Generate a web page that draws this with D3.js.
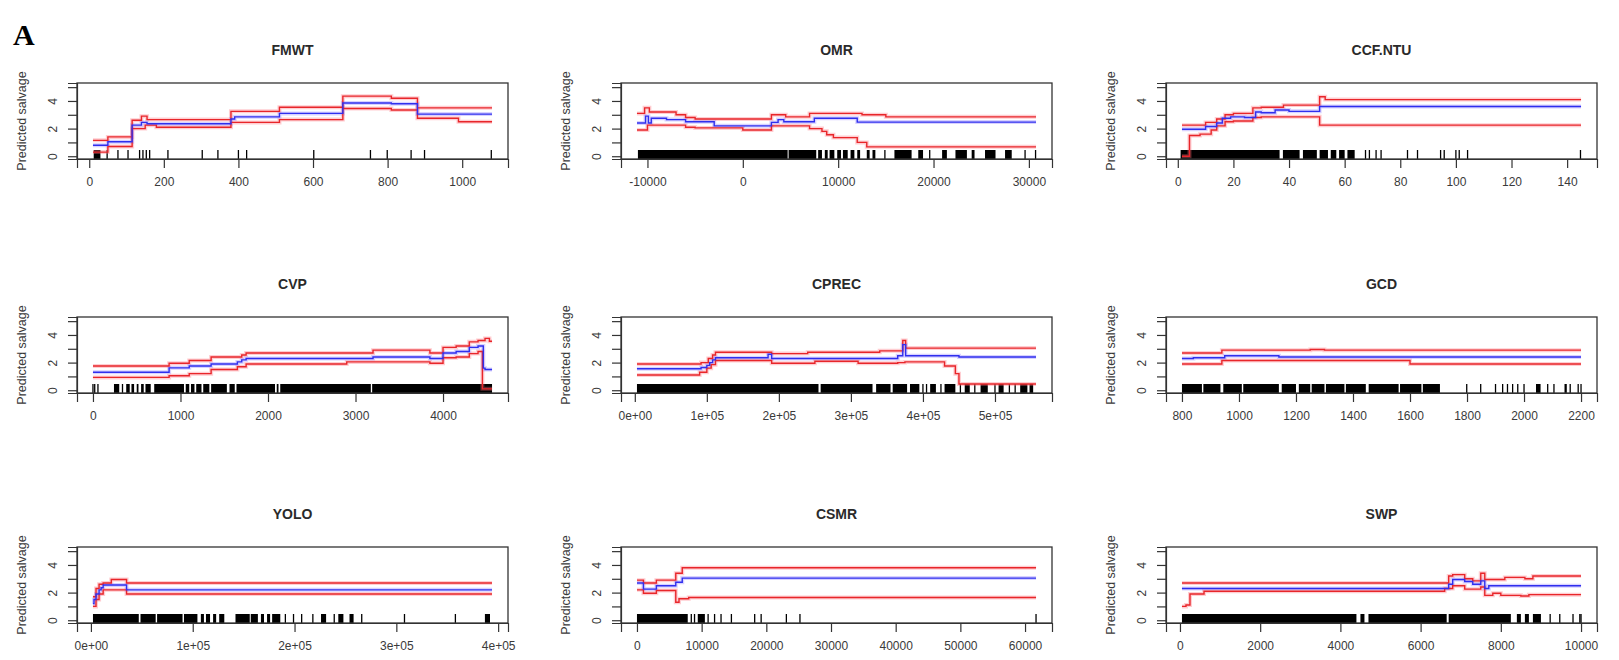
<!DOCTYPE html>
<meta charset="utf-8">
<style>

html, body {
  margin: 0;
  background: #fff;
}

svg {
  display: block;
  font-family: "Liberation Sans", Arial, sans-serif;
}

.box {
  fill: none;
  stroke: #333;
  stroke-width: 1.3px;
}

.axis line, .axis path {
  stroke: #333;
  stroke-width: 1.2px;
}

.axis text {
  fill: #3a3a3a;
  font-size: 12px;
}

.title {
  font-size: 14px;
  font-weight: bold;
  fill: #2a2a2a;
}

.ylab {
  font-size: 12.5px;
  fill: #3a3a3a;
}

.halo { fill: none; stroke-width: 4px; stroke-opacity: 0.35; }
.line { fill: none; stroke-width: 1.4px; }

</style>
<svg></svg>
<script src="https://cdnjs.cloudflare.com/ajax/libs/d3/7.8.5/d3.min.js"></script>
<script>

var width = 1619;
var height = 660;

// panel data: extent of the predictor, step points [x, y] for mean/upper/lower,
// rug as [from, to] runs (from === to is a single tick)

var fmwtExt = [10, 1080];
var fmwtTicks = [0, 200, 400, 600, 800, 1000];
var fmwtMean = [[10, 0.8], [50, 1.05], [115, 2.25], [140, 2.45], [155, 2.35], [380, 2.7], [390, 2.85], [510, 3.1], [680, 3.85], [810, 3.8], [880, 3.05], [1080, 3.05]];
var fmwtUpper = [[10, 1.15], [50, 1.4], [115, 2.6], [140, 2.9], [155, 2.65], [380, 3.25], [510, 3.55], [680, 4.35], [810, 4.2], [880, 3.5], [1080, 3.5]];
var fmwtLower = [[10, 0.3], [50, 0.7], [115, 2.0], [150, 2.25], [180, 2.1], [380, 2.45], [510, 2.65], [680, 3.45], [810, 3.35], [880, 2.75], [990, 2.5], [1080, 2.5]];
var fmwtRug = [[12, 30], [48, 48], [77, 77], [104, 104], [135, 135], [144, 144], [153, 153], [162, 162], [211, 211], [303, 303], [345, 345], [400, 400], [422, 422], [602, 602], [754, 754], [799, 799], [863, 863], [899, 899], [1078, 1078]];

var omrExt = [-11100, 30750];
var omrTicks = [-10000, 0, 10000, 20000, 30000];
var omrMean = [[-11100, 2.4], [-10200, 2.9], [-9900, 2.4], [-9600, 2.75], [-8000, 2.65], [-6000, 2.5], [-3000, 2.2], [3000, 2.45], [3700, 2.65], [4300, 2.5], [7500, 2.75], [12000, 2.47], [30750, 2.47]];
var omrUpper = [[-11100, 3.1], [-10300, 3.5], [-9800, 3.2], [-8500, 3.2], [-7000, 3.0], [-6000, 2.8], [-5000, 2.7], [3000, 3.0], [4500, 2.85], [7000, 3.1], [12500, 3.0], [15000, 2.85], [30750, 2.85]];
var omrLower = [[-11100, 1.9], [-10000, 2.25], [-6000, 2.1], [-5000, 2.05], [0, 1.9], [3000, 2.2], [7000, 2.0], [8300, 1.8], [8800, 1.55], [9500, 1.35], [12000, 1.0], [13000, 0.68], [30750, 0.68]];
var omrRug = [[-11000, 4700], [4800, 7700], [7900, 8300], [8600, 8900], [9100, 9600], [9900, 10300], [10500, 11000], [11300, 11700], [12000, 12300], [13000, 13300], [13600, 13900], [14900, 14900], [15900, 17700], [18400, 18900], [19600, 19600], [20900, 21400], [22300, 23500], [24000, 24300], [25400, 26500], [27500, 28200], [29600, 29600], [30700, 30700]];

var ccfExt = [1.5, 145];
var ccfTicks = [0, 20, 40, 60, 80, 100, 120, 140];
var ccfMean = [[1.5, 1.95], [10, 2.15], [14, 2.4], [16, 2.75], [19, 2.85], [24, 2.8], [28, 3.2], [30, 3.15], [35, 3.35], [40, 3.25], [51, 3.6], [145, 3.6]];
var ccfUpper = [[1.5, 2.25], [10, 2.45], [14, 2.7], [17, 3.0], [20, 3.1], [27, 3.5], [30, 3.55], [38, 3.7], [51, 4.3], [53, 4.1], [145, 4.1]];
var ccfLower = [[1.5, 0], [4.2, 1.5], [8, 1.6], [12, 1.9], [14, 2.2], [17, 2.5], [20, 2.55], [27, 2.8], [30, 2.85], [51, 2.25], [145, 2.25]];
var ccfRug = [[1, 36.6], [37.8, 43.8], [45, 50], [51, 54], [55, 57], [58, 60], [61, 63.6], [67.5, 67.5], [68.9, 68.9], [71.3, 71.3], [73.1, 73.1], [82.6, 82.6], [86.2, 86.2], [94.5, 94.5], [95.8, 95.8], [100, 100], [101.2, 101.2], [104.2, 104.2], [144.8, 144.8]];

var cvpExt = [0, 4560];
var cvpTicks = [0, 1000, 2000, 3000, 4000];
var cvpMean = [[0, 1.3], [870, 1.62], [1100, 1.75], [1350, 1.9], [1650, 2.05], [1700, 2.2], [1750, 2.3], [3200, 2.4], [3850, 2.3], [4000, 2.7], [4150, 2.8], [4300, 3.1], [4400, 3.2], [4460, 1.6], [4480, 1.5], [4560, 1.5]];
var cvpUpper = [[0, 1.75], [870, 1.95], [1100, 2.15], [1350, 2.4], [1700, 2.55], [1750, 2.7], [3200, 2.9], [3850, 2.7], [4000, 3.1], [4150, 3.2], [4300, 3.5], [4400, 3.6], [4480, 3.75], [4530, 3.55], [4560, 3.55]];
var cvpLower = [[0, 0.93], [870, 1.05], [1100, 1.2], [1350, 1.5], [1650, 1.7], [1750, 1.9], [2900, 2.05], [3850, 1.95], [4000, 2.35], [4150, 2.4], [4300, 2.65], [4400, 2.8], [4450, 0.1], [4560, 0.1]];
var cvpRug = [[0, 0], [20, 20], [57, 57], [240, 300], [330, 345], [380, 420], [440, 470], [500, 520], [550, 580], [600, 660], [700, 1040], [1060, 1100], [1120, 1160], [1180, 1240], [1260, 1330], [1350, 1530], [1560, 1620], [1640, 2080], [2100, 2120], [2140, 3175], [3190, 4560]];

var cprecExt = [3000, 557000];
var cprecTicks = [0, 100000, 200000, 300000, 400000, 500000];
var cprecTickLabels = ['0e+00', '1e+05', '2e+05', '3e+05', '4e+05', '5e+05'];
var cprecMean = [[3000, 1.55], [92000, 1.65], [100000, 1.8], [104000, 2.0], [108000, 2.2], [112000, 2.35], [185000, 2.6], [190000, 2.3], [365000, 2.5], [372000, 3.3], [376000, 2.5], [450000, 2.4], [557000, 2.4]];
var cprecUpper = [[3000, 1.9], [92000, 2.0], [102000, 2.3], [108000, 2.55], [112000, 2.75], [190000, 2.65], [240000, 2.75], [340000, 2.85], [372000, 3.6], [376000, 3.05], [557000, 3.05]];
var cprecLower = [[3000, 1.1], [90000, 1.3], [100000, 1.6], [106000, 1.85], [112000, 2.15], [190000, 1.95], [250000, 2.1], [310000, 1.95], [365000, 2.0], [375000, 2.05], [430000, 1.75], [445000, 1.2], [450000, 0.45], [557000, 0.45]];
var cprecRug = [[3000, 255000], [258000, 330000], [335000, 355000], [358000, 378000], [382000, 395000], [400000, 400000], [405000, 405000], [410000, 418000], [425000, 425000], [430000, 445000], [452000, 452000], [458000, 465000], [472000, 472000], [480000, 490000], [500000, 500000], [505000, 512000], [520000, 520000], [528000, 528000], [535000, 545000], [548000, 553000]];

var gcdExt = [800, 2200];
var gcdTicks = [800, 1000, 1200, 1400, 1600, 1800, 2000, 2200];
var gcdMean = [[800, 2.3], [840, 2.35], [950, 2.5], [1140, 2.4], [2200, 2.4]];
var gcdUpper = [[800, 2.7], [940, 2.9], [1250, 2.95], [1300, 2.9], [2200, 2.9]];
var gcdLower = [[800, 1.9], [940, 2.15], [1600, 1.9], [2200, 1.9]];
var gcdRug = [[800, 870], [875, 935], [945, 1010], [1015, 1140], [1150, 1200], [1210, 1250], [1255, 1300], [1305, 1370], [1375, 1445], [1455, 1560], [1565, 1640], [1645, 1705], [1799, 1799], [1848, 1848], [1900, 1900], [1925, 1925], [1942, 1942], [1960, 1960], [1978, 1978], [2000, 2000], [2042, 2058], [2083, 2083], [2105, 2105], [2142, 2150], [2162, 2162], [2190, 2190], [2200, 2200]];

var yoloExt = [2000, 394000];
var yoloTicks = [0, 100000, 200000, 300000, 400000];
var yoloTickLabels = ['0e+00', '1e+05', '2e+05', '3e+05', '4e+05'];
var yoloMean = [[2000, 1.2], [3000, 1.5], [5000, 1.9], [8000, 2.2], [10000, 2.35], [12000, 2.55], [35000, 2.2], [394000, 2.2]];
var yoloUpper = [[2000, 1.7], [5000, 2.3], [8000, 2.6], [12000, 2.7], [20000, 2.95], [35000, 2.7], [394000, 2.7]];
var yoloLower = [[2000, 1.0], [5000, 1.5], [8000, 1.9], [12000, 2.2], [35000, 1.9], [394000, 1.9]];
var yoloRug = [[2000, 47000], [48700, 63600], [65000, 90000], [91400, 104600], [108000, 111000], [113000, 117000], [120000, 123000], [126000, 131000], [142000, 156000], [157000, 164000], [167000, 170000], [173000, 176000], [178000, 186000], [191000, 191000], [199000, 199000], [207000, 207000], [218000, 218000], [226000, 231000], [239000, 239000], [243000, 248000], [254000, 258000], [266000, 266000], [308000, 308000], [358000, 358000], [387000, 392000]];

var csmrExt = [0, 61700];
var csmrTicks = [0, 10000, 20000, 30000, 40000, 50000, 60000];
var csmrMean = [[0, 2.7], [1000, 2.25], [3000, 2.5], [6000, 2.75], [7000, 3.05], [61700, 3.05]];
var csmrUpper = [[0, 2.9], [1000, 2.7], [3000, 2.9], [6000, 3.4], [7000, 3.8], [61700, 3.8]];
var csmrLower = [[0, 2.2], [1000, 1.95], [3000, 2.15], [6000, 1.3], [6500, 1.55], [8000, 1.65], [61700, 1.65]];
var csmrRug = [[0, 7850], [8400, 8400], [8900, 8900], [9400, 10500], [11000, 11000], [12000, 12000], [13000, 13000], [14600, 14600], [18200, 18200], [19200, 19200], [23100, 23100], [25200, 25200], [61700, 61700]];

var swpExt = [50, 10000];
var swpTicks = [0, 2000, 4000, 6000, 8000, 10000];
var swpMean = [[50, 2.3], [6700, 2.6], [6800, 2.95], [7100, 2.8], [7300, 2.6], [7500, 2.85], [7600, 2.3], [7700, 2.5], [10000, 2.5]];
var swpUpper = [[50, 2.7], [6700, 3.2], [6800, 3.3], [7100, 3.0], [7300, 2.85], [7500, 3.4], [7600, 2.95], [8100, 3.1], [8600, 3.0], [8800, 3.2], [10000, 3.2]];
var swpLower = [[50, 1.0], [150, 1.1], [250, 1.9], [600, 2.1], [6600, 2.3], [6800, 2.5], [7100, 2.25], [7500, 2.4], [7600, 1.8], [7800, 1.95], [8000, 1.8], [8500, 1.75], [8700, 1.85], [10000, 1.85]];
var swpRug = [[50, 4400], [4500, 4600], [4700, 6650], [6700, 8250], [8400, 8500], [8600, 8700], [8800, 9000], [9230, 9230], [9470, 9470], [9800, 9800], [9970, 9970], [10000, 10000]];

var yTicks = [0, 1, 2, 3, 4, 5];
var yTickLabels = ['0', '', '2', '', '4', ''];

var panels = [
  {title: 'FMWT', ext: fmwtExt, ticks: fmwtTicks, mean: fmwtMean, upper: fmwtUpper, lower: fmwtLower, rug: fmwtRug},
  {title: 'OMR', ext: omrExt, ticks: omrTicks, mean: omrMean, upper: omrUpper, lower: omrLower, rug: omrRug},
  {title: 'CCF.NTU', ext: ccfExt, ticks: ccfTicks, mean: ccfMean, upper: ccfUpper, lower: ccfLower, rug: ccfRug},
  {title: 'CVP', ext: cvpExt, ticks: cvpTicks, mean: cvpMean, upper: cvpUpper, lower: cvpLower, rug: cvpRug},
  {title: 'CPREC', ext: cprecExt, ticks: cprecTicks, labels: cprecTickLabels, mean: cprecMean, upper: cprecUpper, lower: cprecLower, rug: cprecRug},
  {title: 'GCD', ext: gcdExt, ticks: gcdTicks, mean: gcdMean, upper: gcdUpper, lower: gcdLower, rug: gcdRug},
  {title: 'YOLO', ext: yoloExt, ticks: yoloTicks, labels: yoloTickLabels, mean: yoloMean, upper: yoloUpper, lower: yoloLower, rug: yoloRug},
  {title: 'CSMR', ext: csmrExt, ticks: csmrTicks, mean: csmrMean, upper: csmrUpper, lower: csmrLower, rug: csmrRug},
  {title: 'SWP', ext: swpExt, ticks: swpTicks, mean: swpMean, upper: swpUpper, lower: swpLower, rug: swpRug}
];

// layout of the plot boxes
var colLeft = [77, 621, 1166];
var rowTop = [83, 317, 547];
var boxW = 431;
var boxH = 76;
var rugH = 9;

var svg = d3.select('svg')
  .attr('width', width)
  .attr('height', height);

svg.append('rect')
  .attr('width', width)
  .attr('height', height)
  .attr('fill', '#fff');

svg.append('text')
  .attr('x', 13)
  .attr('y', 45)
  .attr('font-family', '"Liberation Serif", "Times New Roman", serif')
  .attr('font-weight', 'bold')
  .attr('font-size', 30)
  .text('A');

var y = d3.scaleLinear()
  .domain([-0.2, 5.3])
  .range([boxH, 0]);

panels.forEach(function (p, i) {
  var left = colLeft[i % 3];
  var top = rowTop[Math.floor(i / 3)];

  // R style 4% padding around the data range
  var pad = (p.ext[1] - p.ext[0]) * 0.04;
  var x = d3.scaleLinear()
    .domain([p.ext[0] - pad, p.ext[1] + pad])
    .range([0, boxW]);

  var g = svg.append('g')
    .attr('transform', 'translate(' + left + ',' + top + ')');

  g.append('text')
    .attr('class', 'title')
    .attr('x', boxW / 2)
    .attr('y', -28)
    .attr('text-anchor', 'middle')
    .text(p.title);

  g.append('text')
    .attr('class', 'ylab')
    .attr('transform', 'translate(-51,' + (boxH / 2) + ') rotate(-90)')
    .attr('text-anchor', 'middle')
    .text('Predicted salvage');

  // rug
  var rug = g.append('g').attr('class', 'rug');
  rug.selectAll('rect')
    .data(p.rug.filter(function (d) { return d[1] > d[0]; }))
    .enter().append('rect')
    .attr('x', function (d) { return x(d[0]); })
    .attr('width', function (d) { return Math.max(1, x(d[1]) - x(d[0])); })
    .attr('y', boxH - rugH)
    .attr('height', rugH)
    .attr('fill', '#000');
  rug.selectAll('line')
    .data(p.rug.filter(function (d) { return d[1] === d[0]; }))
    .enter().append('line')
    .attr('x1', function (d) { return x(d[0]); })
    .attr('x2', function (d) { return x(d[0]); })
    .attr('y1', boxH - rugH)
    .attr('y2', boxH)
    .attr('stroke', '#000')
    .attr('stroke-width', 1.3);

  var line = d3.line()
    .curve(d3.curveStepAfter)
    .x(function (d) { return x(d[0]); })
    .y(function (d) { return y(d[1]); });

  var series = [
    {values: p.upper, color: '#e8262a', halo: '#ff6f7a'},
    {values: p.lower, color: '#e8262a', halo: '#ff6f7a'},
    {values: p.mean, color: '#2f2fee', halo: '#8c7cff'}
  ];

  g.selectAll('path.halo')
    .data(series)
    .enter().append('path')
    .attr('class', 'halo')
    .attr('stroke', function (d) { return d.halo; })
    .attr('d', function (d) { return line(d.values); });

  g.selectAll('path.line')
    .data(series)
    .enter().append('path')
    .attr('class', 'line')
    .attr('stroke', function (d) { return d.color; })
    .attr('d', function (d) { return line(d.values); });

  // x axis
  var xAxis = d3.axisBottom(x)
    .tickValues(p.ticks)
    .tickSizeOuter(0)
    .tickSize(9)
    .tickPadding(9)
    .tickFormat(function (d, k) { return p.labels ? p.labels[k] : String(d); });

  g.append('g')
    .attr('class', 'axis')
    .attr('transform', 'translate(0,' + boxH + ')')
    .call(xAxis);

  // y axis, labels turned like R's las = 0
  var yAxis = g.append('g')
    .attr('class', 'axis')
    .call(d3.axisLeft(y).tickValues(yTicks).tickSizeOuter(0).tickSize(9).tickFormat(''));

  yAxis.selectAll('.tick')
    .append('text')
    .attr('transform', 'translate(-20,0) rotate(-90)')
    .attr('text-anchor', 'middle')
    .attr('fill', '#3a3a3a')
    .text(function (d, k) { return yTickLabels[k]; });

  g.append('rect')
    .attr('class', 'box')
    .attr('width', boxW)
    .attr('height', boxH);
});

</script>
